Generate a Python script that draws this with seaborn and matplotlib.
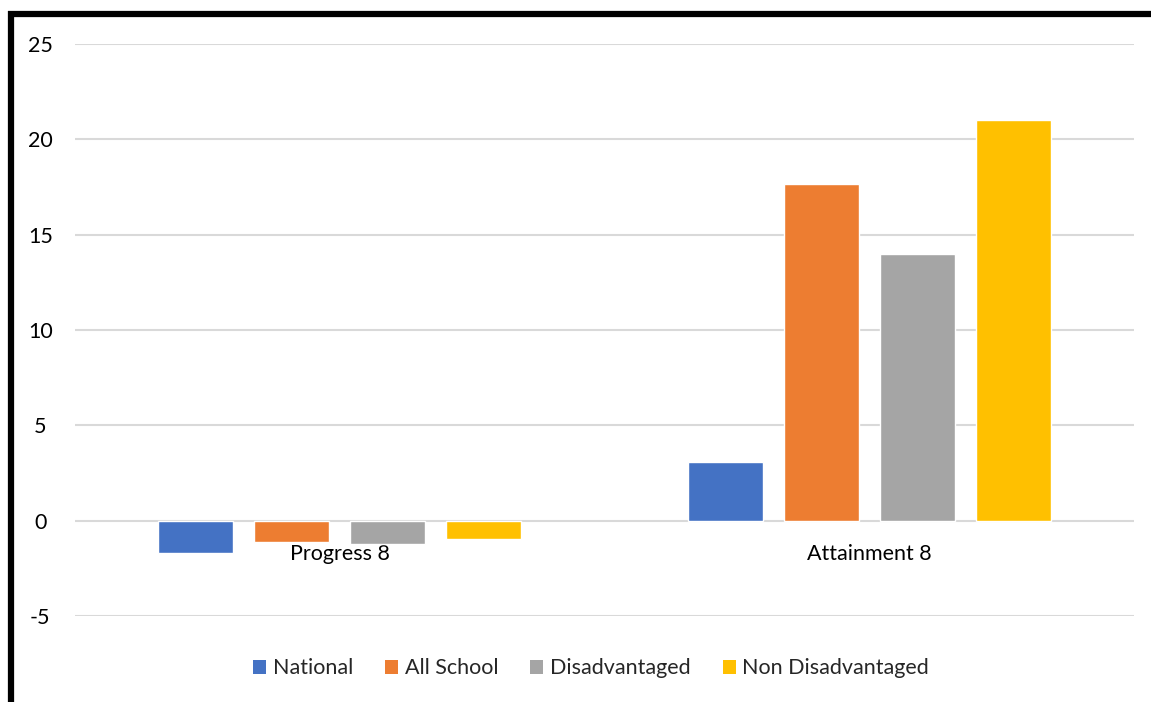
import matplotlib
matplotlib.use("Agg")
import matplotlib.pyplot as plt
from matplotlib.patches import Patch
from matplotlib.lines import Line2D
import seaborn as sns
import pandas as pd

categories = ["Progress 8", "Attainment 8"]
series_names = ["National", "All School", "Disadvantaged", "Non Disadvantaged"]
national = [-1.68, 3.1]
all_school = [-1.1, 17.68]
disadvantaged = [-1.2, 14.0]
non_disadvantaged = [-0.95, 21.0]
y_ticks = [-5, 0, 5, 10, 15, 20, 25]
colors = ["#4472C4", "#ED7D31", "#A5A5A5", "#FFC000"]

rows = []
for name, vals in zip(series_names, [national, all_school, disadvantaged, non_disadvantaged]):
    for c, v in zip(categories, vals):
        rows.append({"Category": c, "Series": name, "Value": v})
df = pd.DataFrame(rows)

sns.set_theme(style="white")
plt.rcParams['font.family'] = ['Lato', 'DejaVu Sans']

FS = 15.5
W, H = 1151, 702
fig = plt.figure(figsize=(W / 100, H / 100), dpi=100)
ax = fig.add_axes([75 / W, 1 - 616 / H, (1134 - 75) / W, (616 - 44) / H])

sns.barplot(data=df, x="Category", y="Value", hue="Series", order=categories,
            hue_order=series_names, palette=colors, width=0.725, gap=0.22,
            saturation=1, ax=ax, legend=False, errorbar=None)

ax.set_ylim(-5, 25)
ax.set_yticks(y_ticks)
ax.set_yticklabels([str(t) for t in y_ticks], fontsize=FS, color="#000000", ha="center")
ax.tick_params(axis="y", length=0, pad=25)
ax.yaxis.grid(True, color="#D9D9D9", linewidth=1.5)
ax.set_axisbelow(True)
for s in ["top", "right", "left"]:
    ax.spines[s].set_visible(False)
ax.spines["bottom"].set_position(("data", 0))
ax.spines["bottom"].set_visible(False)
ax.tick_params(axis="x", length=0, pad=16.5, labelsize=FS, labelcolor="#000000")
ax.set_xlabel("")
ax.set_ylabel("")

handles = [Patch(facecolor=c, edgecolor="none", label=n) for c, n in zip(colors, series_names)]
fig.legend(handles=handles, loc="center", bbox_to_anchor=(591 / W, 1 - 668.5 / H), ncol=4,
           frameon=False, fontsize=FS, handlelength=0.6, handleheight=0.6,
           handletextpad=0.3, columnspacing=1.5)

# outer border (top and left)
fig.add_artist(Line2D([8 / W, 1.0], [1 - 14 / H, 1 - 14 / H], color="black", linewidth=4.5,
                      solid_capstyle="butt", transform=fig.transFigure))
fig.add_artist(Line2D([11 / W, 11 / W], [0, 1 - 11 / H], color="black", linewidth=4.5,
                      solid_capstyle="butt", transform=fig.transFigure))

fig.savefig("out.png", dpi=100)
